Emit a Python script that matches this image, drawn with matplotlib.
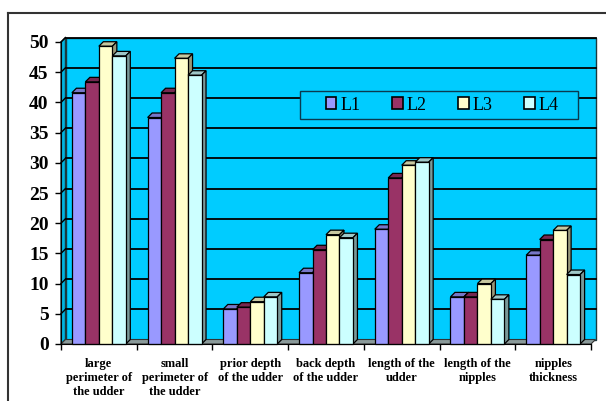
import matplotlib.pyplot as plt
from matplotlib.patches import Polygon, Rectangle, Patch
from matplotlib.lines import Line2D
import matplotlib.colors as mcolors

categories = ["large\nperimeter of\nthe udder", "small\nperimeter of\nthe udder",
              "prior depth\nof the udder", "back depth\nof the udder",
              "length of the\nudder", "length of the\nnipples", "nipples\nthickness"]
series = ["L1", "L2", "L3", "L4"]
l1 = [41.6, 37.5, 5.8, 11.8, 19.0, 7.8, 14.7]
l2 = [43.4, 41.6, 6.1, 15.6, 27.5, 7.8, 17.3]
l3 = [49.3, 47.3, 7.0, 18.1, 29.6, 10.0, 18.8]
l4 = [47.7, 44.5, 7.8, 17.6, 30.1, 7.4, 11.5]
colors = ["#9999FF", "#993366", "#FFFFCC", "#CCFFFF"]
yticks = list(range(0, 55, 5))

SERIF = "Liberation Serif"
WALL = "#00CCFF"
W, H = 606, 401

fig = plt.figure(figsize=(W / 100, H / 100), dpi=100)
ax = fig.add_axes([61 / W, 57 / H, 530 / W, 302 / H])
n = len(categories)
ax.set_xlim(-0.5, n - 0.5)
ax.set_ylim(0, 50)
ax.patch.set_visible(False)

# depth of the pseudo-3D look, in pixels -> data units
depth_px = 4.5
dx = depth_px / (530 / n)
dy = depth_px / (302 / 50)


def shade(c, f):
    r, g, b = mcolors.to_rgb(c)
    return (r * f, g * f, b * f)


x0, x1 = -0.5, n - 0.5
# back wall, side wall and floor
ax.add_patch(Rectangle((x0 + dx, dy), x1 - x0, 50, facecolor=WALL,
                       edgecolor="#1a3a40", lw=1.0, zorder=0, clip_on=False))
ax.add_patch(Polygon([(x0, 0), (x0 + dx, dy), (x0 + dx, 50 + dy), (x0, 50)],
                     facecolor="#00b4e0", edgecolor="#1a3a40", lw=1.0,
                     zorder=0.5, clip_on=False))
ax.add_patch(Polygon([(x0, 0), (x1, 0), (x1 + dx, dy), (x0 + dx, dy)],
                     facecolor="#8a9a9a", edgecolor="#333333", lw=0.8,
                     zorder=1, clip_on=False))
for y in yticks[1:]:
    ax.plot([x0 + dx, x1 + dx], [y + dy, y + dy], color="black", lw=1.3,
            zorder=0.8, clip_on=False)
    ax.plot([x0, x0 + dx], [y, y + dy], color="black", lw=1.0,
            zorder=0.8, clip_on=False)

# columns
width = 0.178
values = [l1, l2, l3, l4]
for j, (vals, c) in enumerate(zip(values, colors)):
    lefts = [g - 2 * width + j * width for g in range(n)]
    for xl, v in zip(lefts, vals):
        xr = xl + width
        ax.add_patch(Polygon([(xl, v), (xr, v), (xr + dx, v + dy), (xl + dx, v + dy)],
                             facecolor=shade(c, 0.78), edgecolor="black", lw=0.9,
                             zorder=2 + 2 * j, clip_on=False))
        ax.add_patch(Polygon([(xr, 0), (xr + dx, dy), (xr + dx, v + dy), (xr, v)],
                             facecolor=shade(c, 0.6), edgecolor="black", lw=0.9,
                             zorder=2 + 2 * j, clip_on=False))
    ax.bar(lefts, vals, width=width, align="edge", color=c, edgecolor="black",
           lw=0.9, zorder=3 + 2 * j, clip_on=False)

# axes lines and ticks
for s in ["top", "right"]:
    ax.spines[s].set_visible(False)
ax.spines["left"].set_zorder(12)
ax.spines["bottom"].set_zorder(12)
ax.set_yticks(yticks)
ax.set_yticklabels([str(t) for t in yticks], fontfamily=SERIF,
                   fontweight="bold", fontsize=14)
ax.tick_params(axis="y", direction="out", length=4, width=1, pad=5)
ax.set_xticks([g - 0.5 for g in range(n + 1)])
ax.set_xticklabels([])
ax.set_xticks(range(n), minor=True)
ax.set_xticklabels(categories, minor=True, fontfamily=SERIF, fontweight="bold",
                   fontsize=9, linespacing=1.25)
ax.tick_params(axis="x", which="major", direction="out", length=4, width=1)
ax.tick_params(axis="x", which="minor", length=0, pad=10)

# legend box
ax.add_patch(Rectangle((300 / W, 1 - 119 / H), 278 / W, 28 / H,
                       transform=fig.transFigure, facecolor=WALL,
                       edgecolor="#0a3a50", lw=1.0, zorder=19, clip_on=False))
handles = [Patch(facecolor=c, edgecolor="black", lw=1.2) for c in colors]
leg = ax.legend(handles, series, loc="center", ncol=4,
                bbox_to_anchor=(442 / W, 1 - 105 / H), bbox_transform=fig.transFigure,
                prop={"family": SERIF, "size": 13}, handlelength=0.6,
                handleheight=0.6, handletextpad=0.2, columnspacing=1.75,
                frameon=False)
leg.set_zorder(20)

# outer chart border
fig.add_artist(Line2D([8 / W, 8 / W], [0, 1 - 13 / H], transform=fig.transFigure,
                      color="#333333", lw=1.5))
fig.add_artist(Line2D([8 / W, 1], [1 - 13 / H, 1 - 13 / H], transform=fig.transFigure,
                      color="#333333", lw=1.5))

fig.savefig("out.png", dpi=100)
